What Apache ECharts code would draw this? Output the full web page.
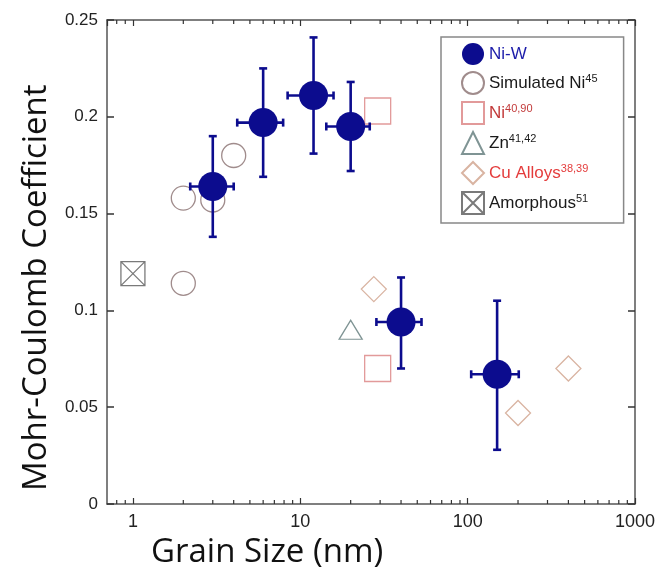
<!DOCTYPE html>
<html>
<head>
<meta charset="utf-8">
<script src="https://cdn.jsdelivr.net/npm/echarts@6/dist/echarts.min.js"></script>
<style>
  html, body { margin: 0; padding: 0; background: #fff; }
  #chart { width: 662px; height: 573px; }
</style>
</head>
<body>
<div id="chart"></div>
<script>
// Ni-W measurements with error bars (grain size in nm, Mohr-Coulomb coefficient)
const niwX   = [3, 6, 12, 20, 40, 150];
const niwY   = [0.164, 0.197, 0.211, 0.195, 0.094, 0.067];
const niwYLo = [0.138, 0.169, 0.181, 0.172, 0.070, 0.028];
const niwYHi = [0.190, 0.225, 0.241, 0.218, 0.117, 0.105];
const niwXLo = [2.2, 4.2, 8.4, 14.3, 28.5, 105];
const niwXHi = [4.0, 7.9, 15.8, 26, 53, 202];

// Literature data
const simNiX = [2, 3, 4, 2];
const simNiY = [0.158, 0.157, 0.180, 0.114];
const niX = [29, 29];
const niY = [0.203, 0.070];
const znX = [20];
const znY = [0.090];
const cuX = [27.5, 200, 400];
const cuY = [0.111, 0.047, 0.070];
const amX = [1];
const amY = [0.119];

// Axis ticks
const xMajorTicks = [1, 10, 100, 1000];
const xMinorTicks = [0.8, 0.9, 2, 3, 4, 5, 6, 7, 8, 9, 20, 30, 40, 50, 60, 70, 80, 90,
                     200, 300, 400, 500, 600, 700, 800, 900];
const yTicks = [0, 0.05, 0.1, 0.15, 0.2, 0.25];

// Legend superscripts and text colours
const refs = { 'Simulated Ni': '45', 'Ni': '40,90', 'Zn': '41,42', 'Cu Alloys': '38,39', 'Amorphous': '51' };
const legendTone = { 'Ni-W': 'b', 'Ni': 'r', 'Cu Alloys': 'o' };

const zip = (xs, ys) => xs.map((x, i) => [x, ys[i]]);

const NAVY = '#0c0c8e';
const AXIS = '#555';
const FONT = '"Liberation Sans", Arial, sans-serif';
const TITLE_FONT = '33px "Open Sans", "Noto Sans", sans-serif';

const chart = echarts.init(document.getElementById('chart'), null, { renderer: 'canvas' });

const sup = (c) => ({ fontSize: 11, color: c, verticalAlign: 'top', lineHeight: 11, fontFamily: FONT });
const main = (c) => ({ fontSize: 17, color: c, lineHeight: 19, fontFamily: FONT });

const hollow = (c) => ({ color: 'rgba(255,255,255,0)', borderColor: c, borderWidth: 1.3, opacity: 1 });

const option = {
  animation: false,
  backgroundColor: '#fff',
  grid: { left: 107, right: 27, top: 20, bottom: 69 },
  xAxis: [
    {
      type: 'log', logBase: 10, min: 0.7, max: 1000, position: 'bottom',
      axisLine: { show: true, onZero: false, lineStyle: { color: AXIS, width: 1.5 } },
      axisTick: { show: true, inside: true, length: 6, lineStyle: { color: '#333', width: 1.2 } },
      axisLabel: {
        show: true, showMinLabel: false, margin: 9,
        fontFamily: FONT, fontSize: 18, color: '#222',
        formatter: (v) => (xMajorTicks.indexOf(Math.round(v)) >= 0 && Math.abs(v - Math.round(v)) < 1e-6 ? String(Math.round(v)) : '')
      },
      splitLine: { show: false }
    },
    {
      type: 'log', logBase: 10, min: 0.7, max: 1000, position: 'top',
      axisLine: { show: true, onZero: false, lineStyle: { color: AXIS, width: 1.5 } },
      axisTick: { show: true, inside: true, length: 6, lineStyle: { color: '#333', width: 1.2 } },
      axisLabel: { show: false },
      splitLine: { show: false }
    }
  ],
  yAxis: [
    {
      type: 'value', min: 0, max: 0.25, interval: 0.05, position: 'left',
      axisLine: { show: true, onZero: false, lineStyle: { color: AXIS, width: 1.5 } },
      axisTick: { show: true, inside: true, length: 7, lineStyle: { color: '#333', width: 1.5 } },
      axisLabel: {
        margin: 9, fontFamily: FONT, fontSize: 17, color: '#222',
        formatter: (v) => {
          const t = yTicks.find(k => Math.abs(k - v) < 1e-9);
          return t === undefined ? '' : String(t);
        }
      },
      splitLine: { show: false }
    },
    {
      type: 'value', min: 0, max: 0.25, interval: 0.05, position: 'right',
      axisLine: { show: true, onZero: false, lineStyle: { color: AXIS, width: 1.5 } },
      axisTick: { show: true, inside: true, length: 7, lineStyle: { color: '#333', width: 1.5 } },
      axisLabel: { show: false },
      splitLine: { show: false }
    }
  ],
  legend: {
    orient: 'vertical',
    left: 441, top: 37,
    padding: [6, 26, 8, 20],
    itemWidth: 22, itemHeight: 22, itemGap: 6,
    backgroundColor: '#fff',
    borderColor: '#888', borderWidth: 1.5,
    data: ['Ni-W', 'Simulated Ni', 'Ni', 'Zn', 'Cu Alloys', 'Amorphous'],
    formatter: (name) => {
      const tone = legendTone[name] || 'k';
      const s = refs[name];
      return '{' + tone + '|' + name + '}' + (s ? '{' + tone + 's|' + s + '}' : '');
    },
    textStyle: {
      rich: {
        k: main('#1a1a1a'), ks: sup('#1a1a1a'),
        b: main('#1c1caa'), bs: sup('#1c1caa'),
        r: main('#c23a3a'), rs: sup('#c23a3a'),
        o: main('#e43c3c'), os: sup('#e43c3c')
      }
    }
  },
  graphic: [
    {
      type: 'text', left: 151, top: 536, silent: true,
      style: { text: 'Grain Size (nm)', font: TITLE_FONT, fill: '#111' }
    },
    {
      type: 'text', silent: true, x: 20, y: 491, rotation: Math.PI / 2,
      style: { text: 'Mohr-Coulomb Coefficient', font: TITLE_FONT, fill: '#111' }
    }
  ],
  series: [
    {
      // minor ticks of the log axis, on the bottom and top frame edges
      type: 'custom', silent: true, z: 1,
      xAxisIndex: 0, yAxisIndex: 0,
      data: xMinorTicks.map(v => [v, 0]),
      encode: { x: 0, y: 1 },
      renderItem: (params, api) => {
        const x = api.coord([api.value(0), 0])[0];
        const cs = params.coordSys;
        const st = { stroke: '#333', lineWidth: 1.2 };
        return {
          type: 'group',
          children: [
            { type: 'line', shape: { x1: x, y1: cs.y + cs.height, x2: x, y2: cs.y + cs.height - 4 }, style: st },
            { type: 'line', shape: { x1: x, y1: cs.y, x2: x, y2: cs.y + 4 }, style: st }
          ]
        };
      }
    },
    {
      name: 'Simulated Ni', type: 'scatter', z: 2,
      symbol: 'circle', symbolSize: 24,
      itemStyle: hollow('#a08c8c'),
      data: zip(simNiX, simNiY)
    },
    {
      name: 'Ni', type: 'scatter', z: 2,
      symbol: 'rect', symbolSize: 26,
      itemStyle: hollow('#e29a9a'),
      data: zip(niX, niY)
    },
    {
      name: 'Zn', type: 'scatter', z: 2,
      symbol: 'triangle', symbolSize: [23, 19],
      itemStyle: hollow('#7f9494'),
      data: zip(znX, znY)
    },
    {
      name: 'Cu Alloys', type: 'scatter', z: 2,
      symbol: 'diamond', symbolSize: 25,
      itemStyle: hollow('#d9b4a2'),
      data: zip(cuX, cuY)
    },
    {
      name: 'Amorphous', type: 'scatter', z: 2,
      symbol: 'path://M0,0 L10,0 L10,10 L0,10 Z M0,0 L10,10 M10,0 L0,10',
      symbolSize: 24,
      itemStyle: hollow('#7a7a7a'),
      data: zip(amX, amY)
    },
    {
      // Ni-W error bars in both directions, with caps
      type: 'custom', silent: true, z: 3,
      data: niwX.map((x, i) => [x, niwY[i], niwXLo[i], niwXHi[i], niwYLo[i], niwYHi[i]]),
      encode: { x: 0, y: 1 },
      renderItem: (params, api) => {
        const x = api.value(0), y = api.value(1);
        const lo = api.coord([x, api.value(4)]);
        const hi = api.coord([x, api.value(5)]);
        const le = api.coord([api.value(2), y]);
        const ri = api.coord([api.value(3), y]);
        const st = { stroke: NAVY, lineWidth: 2.6 };
        const cap = 4;
        return {
          type: 'group',
          children: [
            { type: 'line', shape: { x1: lo[0], y1: lo[1], x2: hi[0], y2: hi[1] }, style: st },
            { type: 'line', shape: { x1: lo[0] - cap, y1: lo[1], x2: lo[0] + cap, y2: lo[1] }, style: st },
            { type: 'line', shape: { x1: hi[0] - cap, y1: hi[1], x2: hi[0] + cap, y2: hi[1] }, style: st },
            { type: 'line', shape: { x1: le[0], y1: le[1], x2: ri[0], y2: ri[1] }, style: st },
            { type: 'line', shape: { x1: le[0], y1: le[1] - cap, x2: le[0], y2: le[1] + cap }, style: st },
            { type: 'line', shape: { x1: ri[0], y1: ri[1] - cap, x2: ri[0], y2: ri[1] + cap }, style: st }
          ]
        };
      }
    },
    {
      name: 'Ni-W', type: 'scatter', z: 4,
      symbol: 'circle', symbolSize: 29,
      itemStyle: { color: NAVY, borderColor: NAVY, borderWidth: 0, opacity: 1 },
      data: zip(niwX, niwY)
    }
  ]
};

chart.setOption(option);
</script>
</body>
</html>
